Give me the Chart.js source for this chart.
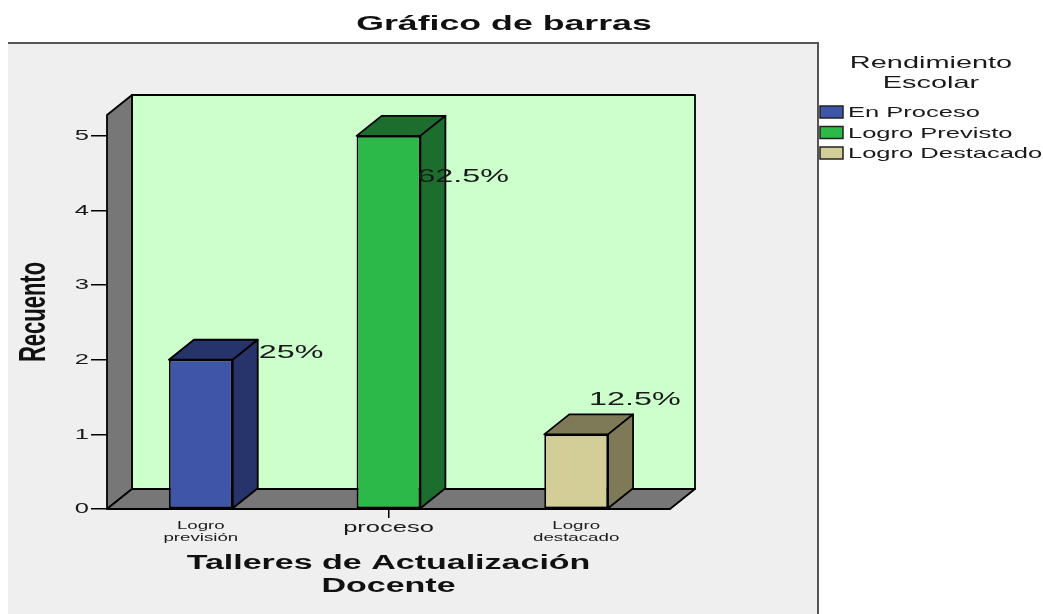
<!DOCTYPE html>
<html><head><meta charset="utf-8">
<script src="https://cdn.jsdelivr.net/npm/chart.js@4/dist/chart.umd.min.js"></script>
<style>html,body{margin:0;padding:0;background:#fff;} #wrap{width:1043px;height:614px;position:relative;}</style>
</head><body><div id="wrap"><canvas id="c"></canvas></div>
<script>
// ---- data ----
const categories = [["Logro", "previsión"], "proceso", ["Logro", "destacado"]];
const seriesNames = ["En Proceso", "Logro Previsto", "Logro Destacado"];
const enProceso = [2, null, null];
const logroPrevisto = [null, 5, null];
const logroDestacado = [null, null, 1];
const yTickValues = [0, 1, 2, 3, 4, 5];
const chartTitle = "Gráfico de barras";
const xTitle = ["Talleres de Actualización", "Docente"];
const yTitle = "Recuento";
const legendTitle = ["Rendimiento", "Escolar"];

// ---- style ----
const FONT = "'Liberation Sans', Arial, sans-serif";
const STRETCH = 1.7;
const DX = 25, DY = -20;
const frontColors = ['#3f56a8', '#2db84a', '#d3cd97'];
const shadeColors = ['#27336b', '#1d6e2e', '#7e7a58'];
const TEXT = '#1a1a1a';

const stretchText = {
  id: 'stretchText',
  beforeInit(chart) {
    const ctx = chart.ctx;
    if (ctx.__patched) return;
    ctx.__patched = true;
    const orig = ctx.fillText;
    ctx.fillText = function (t, x, y, mw) {
      const m = this.getTransform();
      this.save();
      this.translate(x, y);
      if (Math.abs(m.b) > Math.abs(m.a)) this.scale(1, STRETCH); else this.scale(STRETCH, 1);
      if (mw !== undefined && mw !== null) orig.call(this, t, 0, 0, mw / STRETCH); else orig.call(this, t, 0, 0);
      this.restore();
    };
  }
};

function poly(ctx, pts, fill) {
  ctx.beginPath();
  ctx.moveTo(pts[0][0], pts[0][1]);
  for (let i = 1; i < pts.length; i++) ctx.lineTo(pts[i][0], pts[i][1]);
  ctx.closePath();
  ctx.fillStyle = fill; ctx.fill();
  ctx.stroke();
}

const panel3d = {
  id: 'panel3d',
  beforeDraw(chart) {
    const { ctx, chartArea: a } = chart;
    ctx.save();
    ctx.fillStyle = '#fff'; ctx.fillRect(0, 0, chart.width, chart.height);
    ctx.fillStyle = '#efefef'; ctx.fillRect(8, 43, 810, chart.height - 43);
    ctx.strokeStyle = '#555'; ctx.lineWidth = 2;
    ctx.beginPath(); ctx.moveTo(8, 43); ctx.lineTo(818, 43); ctx.lineTo(818, chart.height); ctx.stroke();
    ctx.strokeStyle = '#000'; ctx.lineWidth = 1.8; ctx.lineJoin = 'round';
    const L = a.left, R = a.right, T = a.top, B = a.bottom;
    poly(ctx, [[L + DX, T + DY], [R + DX, T + DY], [R + DX, B + DY], [L + DX, B + DY]], '#ccffcc');
    poly(ctx, [[L, B], [L, T], [L + DX, T + DY], [L + DX, B + DY]], '#777777');
    poly(ctx, [[L, B], [R, B], [R + DX, B + DY], [L + DX, B + DY]], '#777777');
    ctx.restore();
  }
};

const bar3d = {
  id: 'bar3d',
  afterDatasetsDraw(chart, args, opts) {
    const ctx = chart.ctx;
    const all = chart.data.datasets.flatMap(d => d.data).filter(v => v != null);
    const total = all.reduce((s, v) => s + v, 0);
    ctx.save();
    ctx.strokeStyle = '#000'; ctx.lineWidth = 1.8; ctx.lineJoin = 'round';
    chart.data.datasets.forEach((ds, i) => {
      const meta = chart.getDatasetMeta(i);
      meta.data.forEach((el, j) => {
        const v = ds.data[j];
        if (v == null) return;
        const l = el.x - el.width / 2, r = el.x + el.width / 2, t = el.y, b = el.base;
        poly(ctx, [[l, t], [r, t], [r + DX, t + DY], [l + DX, t + DY]], shadeColors[i]);
        poly(ctx, [[r, t], [r + DX, t + DY], [r + DX, b + DY], [r, b]], shadeColors[i]);
        const off = opts.offsets[i];
        const pct = +(v / total * 100).toFixed(1);
        ctx.fillStyle = TEXT;
        ctx.font = `19px ${FONT}`;
        ctx.textAlign = 'left'; ctx.textBaseline = 'middle';
        ctx.fillText(pct + '%', r + off[0], t + off[1]);
      });
    });
    ctx.restore();
  }
};

const decorations = {
  id: 'decorations',
  afterDraw(chart) {
    const ctx = chart.ctx;
    ctx.save();
    ctx.fillStyle = '#111';
    ctx.textBaseline = 'middle';
    ctx.textAlign = 'center';
    ctx.font = `bold 21px ${FONT}`;
    ctx.fillText(chartTitle, 504, 24);
    ctx.fillStyle = TEXT;
    ctx.font = `17px ${FONT}`;
    legendTitle.forEach((s, k) => ctx.fillText(s, 931, 63 + k * 20));
    ctx.textAlign = 'left';
    ctx.font = `15px ${FONT}`;
    ctx.strokeStyle = '#222'; ctx.lineWidth = 1.5;
    chart.data.datasets.forEach((ds, i) => {
      const y = 112 + i * 20.5;
      ctx.fillStyle = ds.backgroundColor;
      ctx.fillRect(820, y - 6, 23, 12);
      ctx.strokeRect(820, y - 6, 23, 12);
      ctx.fillStyle = TEXT;
      ctx.fillText(ds.label, 848, y + 1);
    });
    ctx.restore();
  }
};

new Chart(document.getElementById('c'), {
  type: 'bar',
  data: {
    labels: categories,
    datasets: [
      { label: seriesNames[0], data: enProceso, backgroundColor: frontColors[0] },
      { label: seriesNames[1], data: logroPrevisto, backgroundColor: frontColors[1] },
      { label: seriesNames[2], data: logroDestacado, backgroundColor: frontColors[2] }
    ]
  },
  options: {
    responsive: true, maintainAspectRatio: false, animation: false,
    layout: { padding: { left: 0, top: 115, right: 373, bottom: 0 } },
    datasets: { bar: { skipNull: true, categoryPercentage: 1, barPercentage: 0.34, borderColor: '#000', borderWidth: 1.8, borderSkipped: false } },
    plugins: {
      legend: { display: false }, title: { display: false }, tooltip: { enabled: false },
      bar3d: { offsets: [[26, -7], [-3, 41], [-19, -35]] }
    },
    scales: {
      x: {
        grid: { offset: false, drawOnChartArea: false, drawTicks: true, tickLength: 9, lineWidth: 1.5,
          color: c => Array.isArray(categories[c.index]) ? 'rgba(0,0,0,0)' : '#000' },
        border: { display: false },
        ticks: { color: TEXT, padding: 2, maxRotation: 0, autoSkip: false,
          font: c => ({ family: FONT, size: Array.isArray(categories[c.index]) ? 11 : 15, lineHeight: 1.1 }) },
        title: { display: true, text: xTitle, color: '#111', font: { family: FONT, size: 20, weight: 'bold', lineHeight: 1.15 }, padding: { top: 0, bottom: 16 } },
        afterFit(s) { s.height = 105; }
      },
      y: {
        min: 0, max: 5.28,
        grid: { drawOnChartArea: false, tickLength: 16, color: '#000', lineWidth: 1.5 },
        border: { display: false },
        ticks: { stepSize: 1, color: TEXT, padding: 2, font: { family: FONT, size: 15 } },
        afterBuildTicks(s) { s.ticks = yTickValues.map(v => ({ value: v })); },
        title: { display: true, text: yTitle, color: '#111', font: { family: FONT, size: 22, weight: 'bold', lineHeight: 1.15 }, padding: { top: 22, bottom: 0 } },
        afterFit(s) { s.width = 107; }
      }
    }
  },
  plugins: [stretchText, panel3d, bar3d, decorations]
});
</script>
</body></html>
